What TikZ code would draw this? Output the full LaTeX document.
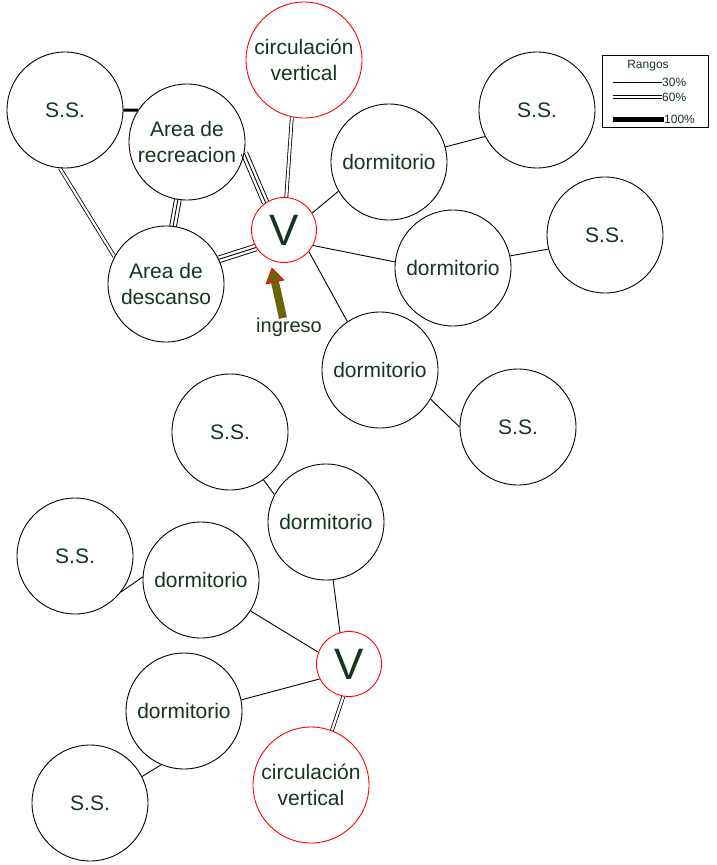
\documentclass[tikz,border=0pt]{standalone}
\usepackage{fontspec}
\setmainfont{Liberation Sans}
\usetikzlibrary{backgrounds}
\definecolor{txt}{RGB}{22,52,32}
\definecolor{olivefill}{RGB}{104,102,10}
\begin{document}
\begin{tikzpicture}[x=1pt,y=-1pt,
  room/.style={circle, draw=black, line width=0.9pt, minimum size=116pt, inner sep=0pt,
    align=center, text=txt, font=\fontsize{21}{26}\selectfont},
  redroom/.style={room, draw=red},
  hub/.style={circle, draw=red, line width=0.9pt, minimum size=65pt, inner sep=0pt,
    text=txt, font=\fontsize{44}{44}\selectfont},
  single/.style={draw, line width=0.9pt},
  dbl/.style={draw, double, double distance=2.2pt, line width=0.8pt},
  trpl/.style={draw, line width=7.6pt,
    postaction={draw=white, line width=5.8pt},
    postaction={draw=black, line width=0.9pt}},
  heavy/.style={draw, line width=3pt},
  legtxt/.style={text=txt, font=\fontsize{12}{12}\selectfont, inner sep=0pt}
]
\useasboundingbox (0,0) rectangle (717,865);

% ---- upper floor ----
\node[room]    (ss1)  at (65,110)  {S.S.};
\node[room]    (rec)  at (187,142) {Area de\\recreacion};
\node[redroom] (circ) at (304,60)  {circulación\\vertical};
\node[hub]     (v)    at (284,230) {V};
\node[room]    (d1)   at (389,162) {dormitorio};
\node[room]    (ss2)  at (537,110) {S.S.};
\node[room]    (d2)   at (453,268) {dormitorio};
\node[room]    (ss3)  at (605,235) {S.S.};
\node[room]    (des)  at (166,284) {Area de\\descanso};
\node[room]    (d3)   at (380,370) {dormitorio};
\node[room]    (ss4)  at (518,427) {S.S.};

% entrance arrow
\fill[olivefill] (286.9,317.1) -- (278.9,281.0) -- (271.1,282.8) -- (279.1,318.9) -- cycle;
\filldraw[fill=olivefill, draw=red, line width=0.9pt]
  (278.9,281.0) -- (283.8,280.0) -- (272.0,268.2) -- (266.2,283.8) -- (271.1,282.8) -- cycle;
\node[text=txt, font=\fontsize{20}{20}\selectfont, inner sep=0pt] (ing) at (289,327) {ingreso};

% ---- lower floor ----
\node[room]    (ss5)  at (230,432) {S.S.};
\node[room]    (d4)   at (326,522) {dormitorio};
\node[room]    (ss6)  at (75,556)  {S.S.};
\node[room]    (d5)   at (201,580) {dormitorio};
\node[hub]     (v2)   at (349,664) {V};
\node[room]    (d6)   at (184,711) {dormitorio};
\node[redroom] (circ2) at (311,785) {circulación\\vertical};
\node[room]    (ss7)  at (90,803)  {S.S.};

% ---- legend ----
\node[draw=black, line width=0.9pt, minimum width=106pt, minimum height=72pt, inner sep=0pt]
  (leg) at (655,91) {};
\node[legtxt] (legt) at (648,66) {Rangos};
\coordinate (l1a) at (613,82);  \coordinate (l1b) at (662,82);
\coordinate (l2a) at (613,97);  \coordinate (l2b) at (662,97);
\coordinate (l3a) at (613,119); \coordinate (l3b) at (664,119);
\node[legtxt, anchor=west] (t1) at (662,82)  {30\%};
\node[legtxt, anchor=west] (t2) at (662,97)  {60\%};
\node[legtxt, anchor=west] (t3) at (664,119) {100\%};

\begin{pgfonlayer}{background}
  % upper floor connectors
  \path[heavy]  (ss1.0)    -- (rec.147);
  \path[dbl]    (ss1.265)  -- (des.152);
  \path[trpl]   (rec.261)  -- (des.83);
  \path[trpl]   (rec.-11)  -- (v.124);
  \path[trpl]   (des.25)   -- (v.212);
  \path[dbl]    (circ.258) -- (v.86);
  \path[single] (v.31)     -- (d1.210);
  \path[single] (v.-28)    -- (d2.174);
  \path[single] (v.-41)    -- (d3.124);
  \path[single] (d1.15)    -- (ss2.207);
  \path[single] (d2.12)    -- (ss3.194);
  \path[single] (d3.-30)   -- (ss4.180);
  % lower floor connectors
  \path[single] (ss5.-55)  -- (d4.152);
  \path[single] (d4.-83)   -- (v2.106);
  \path[single] (ss6.-38)  -- (d5.177);
  \path[single] (d5.-32)   -- (v2.159);
  \path[single] (d6.11)    -- (v2.207);
  \path[single] (d6.247)   -- (ss7.27);
  \path[dbl]    (v2.260)   -- (circ2.69);
  % legend samples
  \path[single] (l1a) -- (l1b);
  \path[dbl]    (l2a) -- (l2b);
  \path[draw, line width=5pt] (l3a) -- (l3b);
\end{pgfonlayer}
\end{tikzpicture}
\end{document}
